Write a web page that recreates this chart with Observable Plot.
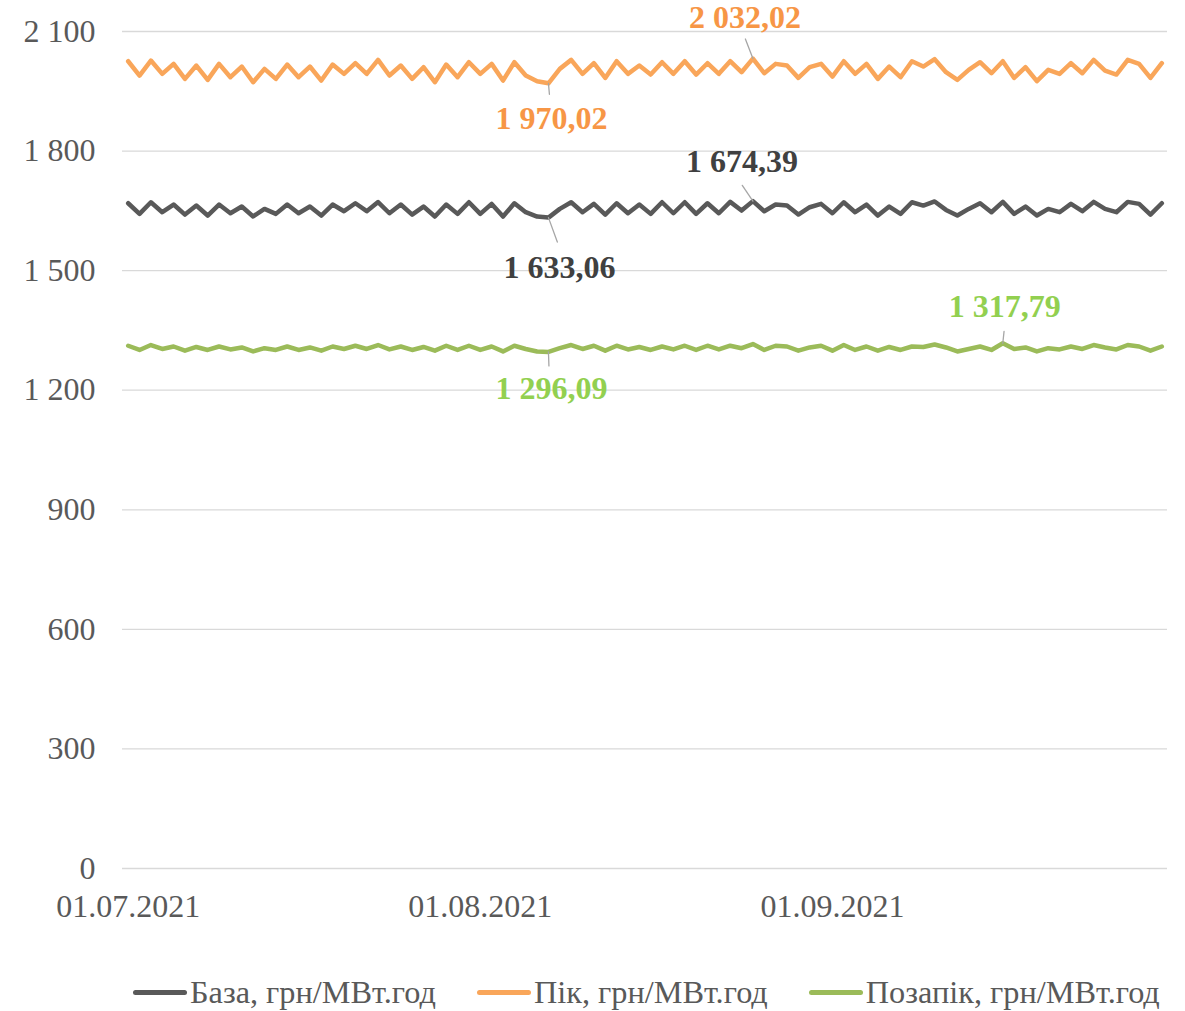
<!DOCTYPE html>
<html>
<head>
<meta charset="utf-8">
<script src="https://cdn.jsdelivr.net/npm/d3@7"></script>
<script src="https://cdn.jsdelivr.net/npm/@observablehq/plot@0.6"></script>
<style>
  html, body { margin: 0; padding: 0; background: #ffffff; }
  body { width: 1185px; height: 1011px; overflow: hidden; font-family: "Liberation Serif", "Times New Roman", serif; }
  #chart svg, #chart svg text { font-family: "Liberation Serif", "Times New Roman", serif; }
  #legend { display: flex; align-items: center; padding-left: 133px; padding-top: 26px; height: 32px; column-gap: 41px; color: #595959; font-size: 32.3px; line-height: 32px; white-space: nowrap; }
  .item { display: flex; align-items: center; }
  .sw { width: 54px; height: 5px; border-radius: 3px; margin-right: 3px; }
</style>
</head>
<body>
<div id="chart"></div>
<div id="legend"></div>
<script>
// ---- data ----
const startDate = "2021-07-01";
const endDate = "2021-10-01";
const xTickLabels = ["01.07.2021", "01.08.2021", "01.09.2021"];
const yTicks = [0, 300, 600, 900, 1200, 1500, 1800, 2100];
const seriesNames = ["База, грн/МВт.год", "Пік, грн/МВт.год", "Позапік, грн/МВт.год"];

const base = [
  1669.1,1642.4,1671.6,1646.6,1665.8,1640.7,1663.3,1638.2,1665.8,1644.0,
  1660.8,1636.0,1654.9,1642.4,1665.8,1644.0,1660.8,1638.2,1665.8,1649.1,
  1669.1,1649.1,1672.0,1644.0,1665.8,1640.7,1660.8,1635.7,1665.8,1642.4,
  1671.6,1642.4,1667.5,1635.7,1669.1,1646.6,1635.7,1633.06,1654.9,1671.6,
  1646.6,1667.5,1640.7,1669.1,1644.0,1665.8,1642.4,1671.6,1644.0,1671.6,
  1642.4,1669.1,1644.0,1672.5,1650.7,1674.39,1649.1,1665.8,1663.3,1640.7,
  1659.1,1667.5,1644.0,1671.6,1646.6,1665.8,1638.2,1660.8,1642.4,1671.6,
  1663.3,1673.5,1652.4,1638.2,1654.9,1669.1,1646.6,1672.5,1642.4,1660.8,
  1638.2,1654.9,1646.6,1667.5,1649.1,1672.5,1654.9,1646.6,1672.5,1667.5,
  1640.7,1669.1
];
const peak = [
  2025.4,1989.5,2027.1,1993.7,2018.8,1981.1,2014.6,1978.6,2018.8,1985.3,
  2012.1,1972.8,2006.2,1981.1,2017.1,1985.3,2012.1,1976.9,2017.1,1993.7,
  2020.4,1993.7,2028.8,1989.5,2014.6,1981.1,2010.4,1972.8,2017.1,1985.3,
  2022.9,1993.7,2018.8,1976.9,2022.9,1989.5,1975.3,1970.02,2006.2,2028.8,
  1993.7,2020.4,1983.6,2025.4,1993.7,2014.6,1992.0,2022.9,1993.7,2025.4,
  1992.0,2020.4,1993.7,2025.4,1997.9,2032.02,1995.3,2018.8,2014.6,1983.6,
  2010.4,2018.8,1987.0,2025.4,1993.7,2018.8,1981.1,2012.1,1985.3,2025.4,
  2012.1,2030.5,1997.9,1978.6,2003.7,2022.9,1995.3,2025.4,1983.6,2010.4,
  1975.3,2003.7,1993.7,2020.4,1995.3,2028.8,2002.0,1992.0,2028.8,2018.8,
  1983.6,2020.4
];
const offpeak = [
  1311.6,1301.0,1313.4,1303.5,1309.7,1299.2,1308.5,1301.0,1309.7,1302.3,
  1307.3,1297.3,1305.4,1301.0,1309.7,1301.0,1307.3,1299.2,1309.7,1303.5,
  1311.6,1303.5,1313.4,1302.3,1309.7,1301.0,1308.5,1299.2,1311.6,1301.0,
  1311.6,1301.0,1309.7,1297.3,1311.6,1303.5,1297.3,1296.09,1305.4,1313.4,
  1303.5,1311.6,1299.2,1311.6,1302.3,1308.5,1301.0,1309.7,1302.3,1311.6,
  1301.0,1311.6,1302.3,1311.6,1305.4,1315.9,1301.0,1311.6,1309.7,1299.2,
  1307.3,1311.6,1299.2,1313.4,1301.0,1309.7,1299.2,1308.5,1301.0,1309.7,
  1308.5,1314.7,1307.3,1297.3,1303.5,1309.7,1301.0,1317.79,1303.5,1307.3,
  1297.3,1305.4,1302.3,1309.7,1303.5,1313.4,1307.3,1302.3,1313.4,1309.7,
  1299.2,1309.7
];

// ---- build ----
const colors = ["#595959", "#F9A65A", "#9BBB59"];
const labelColors = ["#404040", "#F79646", "#92D050"];
const FONT = "Liberation Serif, Times New Roman, serif";
const loc = d3.formatLocale({decimal: ",", thousands: " ", grouping: [3], currency: ["", ""]});
const fmtTick = loc.format(",d");
const fmtLabel = loc.format(",.2f");
const parseTick = d3.utcParse("%d.%m.%Y");
const noon = d => d3.utcHour.offset(d, 12);

const days = d3.utcDay.range(new Date(startDate), new Date(endDate)).map(noon);
const seriesValues = [base, peak, offpeak];
const rows = seriesValues.map((vals, s) => vals.map((v, i) => ({series: s, date: days[i], value: v})));

const lineShape = { draw(ctx, l) { ctx.moveTo(0, 0); ctx.lineTo(0, -l); } };

function annotate(s, which, dx, dy, rot, len) {
  const vals = seriesValues[s];
  const i = which === "max" ? d3.maxIndex(vals) : d3.minIndex(vals);
  const pt = [{date: days[i], value: vals[i]}];
  return [
    Plot.vector(pt, {x: "date", y: "value", length: len, rotate: rot, anchor: "start", shape: lineShape, stroke: "#A6A6A6", strokeWidth: 1.3}),
    Plot.text(pt, {x: "date", y: "value", text: d => fmtLabel(d.value), dx, dy, fill: labelColors[s], fontWeight: "bold", fontSize: 32, fontFamily: FONT})
  ];
}

const chart = Plot.plot({
  width: 1185,
  height: 950,
  marginTop: 31,
  marginBottom: 82,
  marginLeft: 122,
  marginRight: 18,
  style: {fontFamily: FONT, fontSize: "32px", color: "#595959", background: "#ffffff", overflow: "visible"},
  x: {type: "utc", domain: [new Date(startDate), new Date(endDate)]},
  y: {domain: [0, 2100]},
  marks: [
    Plot.gridY(yTicks, {stroke: "#D9D9D9", strokeOpacity: 1, strokeWidth: 1.3}),
    Plot.axisY(yTicks, {tickSize: 0, tickPadding: 27, tickFormat: fmtTick, label: null, fontSize: 32, fontFamily: FONT}),
    Plot.axisX(xTickLabels.map(t => noon(parseTick(t))), {tickSize: 0, tickPadding: 26, tickFormat: d3.utcFormat("%d.%m.%Y"), label: null, fontSize: 32, fontFamily: FONT}),
    ...rows.map((r, s) => Plot.line(r, {x: "date", y: "value", stroke: colors[s], strokeWidth: 4.5, curve: "linear", strokeLinejoin: "round", strokeLinecap: "round"})),
    ...annotate(1, "max", -8, -41, -21, 21),
    ...annotate(1, "min", 3, 35, 175, 11),
    ...annotate(0, "max", -11, -39, -34, 19),
    ...annotate(0, "min", 11, 50, 160, 26),
    ...annotate(2, "max", 2, -37, 6, 12),
    ...annotate(2, "min", 3, 37, 178, 14)
  ]
});
document.getElementById("chart").appendChild(chart);

const legend = document.getElementById("legend");
seriesNames.forEach((name, s) => {
  const item = document.createElement("div");
  item.className = "item";
  const sw = document.createElement("span");
  sw.className = "sw";
  sw.style.background = colors[s];
  const tx = document.createElement("span");
  tx.textContent = name;
  item.appendChild(sw);
  item.appendChild(tx);
  legend.appendChild(item);
});
</script>
</body>
</html>
